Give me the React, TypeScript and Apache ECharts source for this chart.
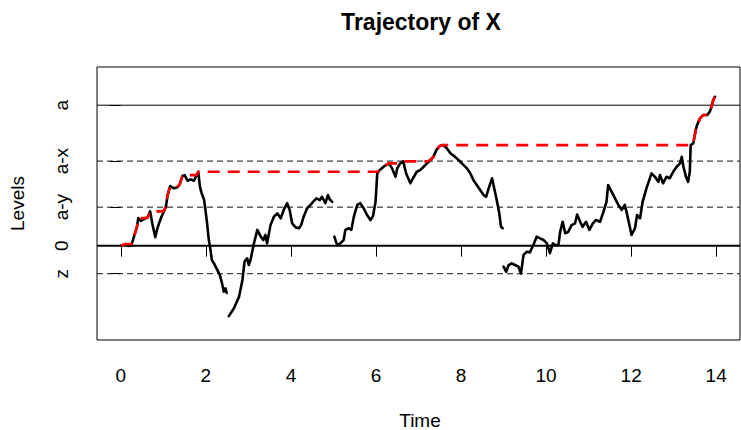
import React, { useEffect, useRef } from "react";
import * as echarts from "echarts";

// ---- data ----
const timeTicks = [0, 2, 4, 6, 8, 10, 12, 14];

const LEVEL_A = 5;
const LEVEL_AX = 3.01;
const LEVEL_AY = 1.37;
const LEVEL_Z = -1;
const levelValues = [LEVEL_Z, 0, LEVEL_AY, LEVEL_AX, LEVEL_A];
const levelLabels = ["z", "0", "a-y", "a-x", "a"];

const segment1: [number, number][] = [
  [0, 0], [0.12, 0.06], [0.19, -0.01], [0.25, 0.02], [0.31, 0.32], [0.38, 0.67], [0.41, 0.98],
  [0.47, 0.88], [0.55, 0.95], [0.63, 1.0], [0.69, 1.22], [0.74, 0.79], [0.81, 0.3], [0.86, 0.62],
  [0.94, 0.97], [1.0, 1.17], [1.06, 1.38], [1.1, 1.8], [1.16, 2.12], [1.25, 2.04], [1.33, 2.08],
  [1.38, 2.16], [1.45, 2.48], [1.5, 2.51], [1.57, 2.31], [1.64, 2.36], [1.72, 2.31], [1.78, 2.51],
  [1.82, 2.63], [1.86, 2.1], [1.89, 1.92], [1.96, 1.62], [2.02, 0.91], [2.07, 0.2], [2.11, -0.16],
  [2.14, -0.51], [2.19, -0.63], [2.25, -0.81], [2.33, -1.05], [2.38, -1.34], [2.42, -1.64],
  [2.46, -1.52], [2.49, -1.68],
];

const segment2: [number, number][] = [
  [2.54, -2.51], [2.66, -2.23], [2.78, -1.82], [2.86, -1.22], [2.91, -0.57], [2.97, -0.45],
  [3.01, -0.69], [3.05, -0.51], [3.13, 0.08], [3.21, 0.56], [3.29, 0.32], [3.35, 0.2], [3.4, 0.38],
  [3.44, 0.08], [3.52, 0.73], [3.6, 1.03], [3.68, 1.15], [3.76, 0.97], [3.83, 1.27], [3.91, 1.51],
  [3.97, 1.27], [4.03, 0.79], [4.11, 0.65], [4.19, 0.62], [4.24, 0.73], [4.3, 1.03], [4.38, 1.33],
  [4.46, 1.45], [4.52, 1.56], [4.6, 1.68], [4.68, 1.62], [4.73, 1.74], [4.81, 1.51], [4.87, 1.8],
  [4.91, 1.65], [4.97, 1.56],
];

const segment3: [number, number][] = [
  [5.02, 0.32], [5.09, 0.02], [5.16, 0.08], [5.24, 0.2], [5.28, 0.56], [5.36, 0.62], [5.42, 0.56],
  [5.48, 1.03], [5.56, 1.45], [5.63, 1.51], [5.71, 1.33], [5.79, 1.09], [5.87, 0.91], [5.93, 1.05],
  [5.99, 1.56], [6.03, 2.57], [6.09, 2.69], [6.18, 2.81], [6.3, 2.93], [6.38, 2.75], [6.46, 2.45],
  [6.5, 2.75], [6.57, 2.93], [6.64, 3.0], [6.71, 2.57], [6.81, 2.22], [6.87, 2.4], [6.96, 2.63],
  [7.04, 2.69], [7.12, 2.81], [7.2, 2.93], [7.28, 3.05], [7.35, 3.16], [7.42, 3.4], [7.5, 3.55],
  [7.58, 3.58], [7.67, 3.46], [7.75, 3.29], [7.86, 3.16], [7.94, 3.05], [8.02, 2.93], [8.14, 2.75],
  [8.22, 2.57], [8.29, 2.34], [8.37, 2.16], [8.45, 1.98], [8.53, 1.8], [8.59, 1.74], [8.65, 2.04],
  [8.73, 2.4], [8.78, 2.04], [8.84, 1.62], [8.9, 1.15], [8.94, 0.67], [8.98, 0.62],
];

const segment4: [number, number][] = [
  [9.0, -0.75], [9.06, -0.93], [9.12, -0.69], [9.19, -0.63], [9.27, -0.69], [9.35, -0.75],
  [9.41, -0.99], [9.47, -0.33], [9.55, -0.22], [9.62, -0.24], [9.7, 0.02], [9.78, 0.32],
  [9.86, 0.26], [9.94, 0.2], [10.02, 0.08], [10.09, -0.27], [10.16, 0.08], [10.21, 0.02],
  [10.29, 0.02], [10.33, 0.49], [10.39, 0.85], [10.45, 0.44], [10.52, 0.49], [10.6, 0.73],
  [10.68, 0.79], [10.73, 1.11], [10.8, 0.85], [10.86, 0.67], [10.94, 0.85], [11.02, 0.56],
  [11.1, 0.79], [11.17, 0.91], [11.27, 0.85], [11.35, 1.21], [11.42, 1.56], [11.46, 2.16],
  [11.54, 1.92], [11.62, 1.68], [11.7, 1.45], [11.78, 1.27], [11.85, 1.45], [11.89, 1.21],
  [11.96, 0.73], [12.01, 0.38], [12.09, 0.62], [12.14, 1.09], [12.21, 0.97], [12.27, 1.56],
  [12.36, 2.04], [12.48, 2.57], [12.56, 2.45], [12.64, 2.27], [12.68, 2.51], [12.75, 2.22],
  [12.83, 2.45], [12.91, 2.4], [12.99, 2.63], [13.07, 2.81], [13.15, 2.93], [13.19, 3.16],
  [13.23, 2.81], [13.29, 2.45], [13.34, 2.27], [13.38, 2.63], [13.4, 3.58], [13.46, 3.64],
  [13.52, 4.12], [13.55, 4.29], [13.62, 4.53], [13.69, 4.65], [13.79, 4.65], [13.85, 4.77],
  [13.89, 4.94], [13.93, 5.18], [13.97, 5.3],
];

const segments = [segment1, segment2, segment3, segment4];

// ---- layout / style ----
const X_MIN = -0.56;
const X_MAX = 14.56;
const Y_MIN = -3.36;
const Y_MAX = 6.36;
const FONT = "'Liberation Sans', Arial, Helvetica, sans-serif";

function runningMax(points: [number, number][]): [number, number][] {
  const out: [number, number][] = [];
  let m = -Infinity;
  for (const [t, v] of points) {
    m = Math.max(m, v);
    out.push([t, m]);
  }
  return out;
}

export default function App() {
  const ref = useRef<HTMLDivElement>(null);

  useEffect(() => {
    document.body.style.margin = "0";
    if (!ref.current) return;
    const chart = echarts.init(ref.current, undefined, { renderer: "svg" });

    const allPoints = segments.flat();
    const maxPath = runningMax(allPoints);

    const refLines = [
      { v: LEVEL_A, type: "solid", width: 1, color: "#000" },
      { v: LEVEL_AX, type: [6, 4], width: 1, color: "#111" },
      { v: LEVEL_AY, type: [6, 4], width: 1, color: "#111" },
      { v: 0, type: "solid", width: 2, color: "#000" },
      { v: LEVEL_Z, type: [6, 4], width: 1, color: "#111" },
    ];

    const series: any[] = [];
    refLines.forEach((r, i) => {
      series.push({
        name: "level" + i,
        type: "line",
        data: [
          [X_MIN, r.v],
          [X_MAX, r.v],
        ],
        showSymbol: false,
        symbol: "none",
        silent: true,
        lineStyle: { color: r.color, width: r.width, type: r.type },
        z: 1,
      });
    });
    segments.forEach((seg, i) => {
      series.push({
        name: "X" + i,
        type: "line",
        data: seg,
        showSymbol: false,
        symbol: "none",
        lineStyle: { color: "#000", width: 2.6, join: "round", cap: "round" },
        z: 3,
      });
    });
    series.push({
      name: "max",
      type: "line",
      data: maxPath,
      showSymbol: false,
      symbol: "none",
      lineStyle: { color: "#ff0000", width: 2.6, type: [12, 8], join: "round" },
      z: 4,
    });

    chart.setOption({
      animation: false,
      backgroundColor: "#fff",
      textStyle: { fontFamily: FONT },
      grid: {
        left: 97,
        right: 1,
        top: 67,
        bottom: 90,
        show: true,
        borderColor: "#000",
        borderWidth: 1,
        backgroundColor: "transparent",
        containLabel: false,
      },
      xAxis: {
        type: "value",
        min: X_MIN,
        max: X_MAX,
        axisLine: { show: false },
        splitLine: { show: false },
        axisTick: {
          show: true,
          length: 11,
          customValues: timeTicks,
          lineStyle: { color: "#000", width: 1 },
        },
        axisLabel: {
          customValues: timeTicks,
          color: "#000",
          fontSize: 19,
          fontFamily: FONT,
          margin: 26,
        },
      },
      yAxis: {
        type: "value",
        min: Y_MIN,
        max: Y_MAX,
        axisLine: { show: false },
        splitLine: { show: false },
        axisTick: {
          show: true,
          length: 11,
          customValues: levelValues,
          lineStyle: { color: "#000", width: 1 },
        },
        axisLabel: {
          customValues: levelValues,
          rotate: 90,
          color: "#000",
          fontSize: 19,
          fontFamily: FONT,
          margin: 26,
          formatter: (v: number) => {
            const i = levelValues.findIndex((x) => Math.abs(x - v) < 1e-6);
            return i >= 0 ? levelLabels[i] : "";
          },
        },
      },
      graphic: [
        {
          type: "text",
          x: 421,
          y: 22,
          style: {
            text: "Trajectory of X",
            fontSize: 23,
            fontWeight: "bold",
            fontFamily: FONT,
            fill: "#000",
            align: "center",
            verticalAlign: "middle",
          },
        },
        {
          type: "text",
          x: 420,
          y: 420,
          style: {
            text: "Time",
            fontSize: 19,
            fontFamily: FONT,
            fill: "#000",
            align: "center",
            verticalAlign: "middle",
          },
        },
        {
          type: "text",
          x: 17,
          y: 203.5,
          rotation: Math.PI / 2,
          style: {
            text: "Levels",
            fontSize: 19,
            fontFamily: FONT,
            fill: "#000",
            align: "center",
            verticalAlign: "middle",
          },
        },
      ],
      series,
    });

    return () => chart.dispose();
  }, []);

  return <div ref={ref} style={{ width: 741, height: 430 }} />;
}
